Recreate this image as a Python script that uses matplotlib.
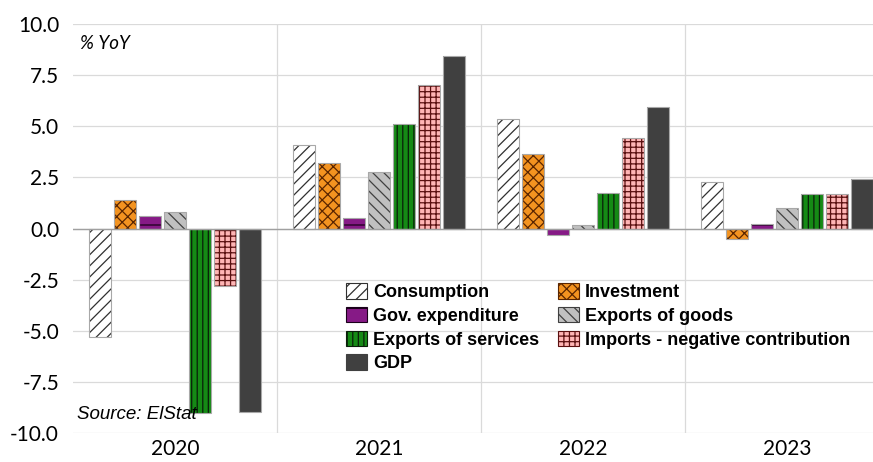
import matplotlib
matplotlib.use('Agg')
import matplotlib.pyplot as plt
import numpy as np
from matplotlib.patches import Patch

# data (% YoY)
years = ['2020', '2021', '2022', '2023']
series = ['Consumption', 'Investment', 'Gov. expenditure', 'Exports of goods',
          'Exports of services', 'Imports - negative contribution', 'GDP']
consumption = [-5.3, 4.1, 5.35, 2.3]
investment = [1.4, 3.2, 3.65, -0.5]
gov_exp = [0.6, 0.5, -0.3, 0.2]
exp_goods = [0.8, 2.75, 0.15, 1.0]
exp_services = [-9.0, 5.1, 1.75, 1.7]
imports_neg = [-2.8, 7.0, 4.45, 1.7]
gdp = [-8.95, 8.45, 5.95, 2.4]
values = [consumption, investment, gov_exp, exp_goods, exp_services, imports_neg, gdp]

# look of each series: fill, hatch, hatch colour
faces = ['white', '#F39320', '#861A86', '#C0C0C0', '#158A15', '#FFB5B5', '#404040']
hatches = ['///', 'xxx', '-', '\\\\\\', '|||', '+++', '']
hatch_cols = ['#303030', '#5A2500', '#1A001A', '#404040', '#0A1F0A', '#5A1010', '#404040']

plt.rcParams['hatch.linewidth'] = 0.9

fig = plt.figure(figsize=(8.73, 4.62), dpi=100)
ax = fig.add_axes([0.0836, 0.0628, 0.9164, 0.885])

x = np.arange(len(years))
step = 0.1225
width = 0.108
for i, vals in enumerate(values):
    pos = x + (i - 3) * step
    ax.bar(pos, vals, width, color=faces[i], edgecolor=hatch_cols[i],
           hatch=hatches[i], linewidth=0, zorder=3)
    ax.bar(pos, vals, width, fill=False, edgecolor='#A8A8A8', linewidth=0.8, zorder=4)

ax.set_xlim(-0.5, 3.42)
ax.set_ylim(-10, 10)
ax.set_yticks(np.arange(-10, 10.1, 2.5))
ax.set_yticklabels([f'{v:.1f}' for v in np.arange(-10, 10.1, 2.5)], family='Lato', fontsize=15)
ax.set_xticks(x)
ax.set_xticklabels(years, family='Lato', fontsize=15)
ax.set_xticks([0.5, 1.5, 2.5], minor=True)
ax.tick_params(axis='both', which='both', length=0)
ax.tick_params(axis='x', pad=4)
ax.tick_params(axis='y', pad=10)
ax.grid(axis='y', which='major', color='#DADADA', linewidth=0.9, zorder=0)
ax.grid(axis='x', which='minor', color='#DADADA', linewidth=0.9, zorder=0)
ax.axhline(0, color='#A0A0A0', linewidth=1.0, zorder=5)
for s in ax.spines.values():
    s.set_visible(False)

ax.text(0.009, 0.952, '% YoY', transform=ax.transAxes, family='Lato', style='italic',
        fontsize=13.5, va='center', ha='left')
ax.text(0.005, 0.045, 'Source: ElStat', transform=ax.transAxes, family='Liberation Sans',
        style='italic', fontsize=13.5, va='center', ha='left', zorder=6)

handles = [Patch(facecolor=faces[i], edgecolor=hatch_cols[i], hatch=hatches[i], linewidth=0.8)
           for i in range(len(series))]
order = [0, 2, 4, 6, 1, 3, 5]
fig.legend([handles[i] for i in order], [series[i] for i in order], ncol=2,
           loc='upper left', bbox_to_anchor=(346 / 873, (462 - 283) / 462),
           frameon=False, borderpad=0, borderaxespad=0,
           prop={'family': 'Liberation Sans', 'weight': 'bold', 'size': 13},
           handlelength=1.17, handleheight=0.95, handletextpad=0.35,
           labelspacing=0.32, columnspacing=1.0)

fig.savefig('out.png', dpi=100)
